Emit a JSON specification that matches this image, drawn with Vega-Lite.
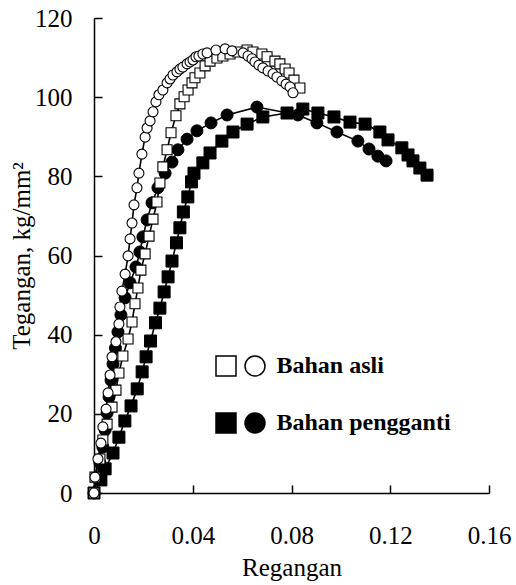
{
  "$schema": "https://vega.github.io/schema/vega-lite/v6.json",
  "width": 395,
  "height": 475,
  "autosize": "none",
  "padding": {"left": 94, "top": 18, "right": 27, "bottom": 92},
  "background": "white",
  "config": {
    "view": {"stroke": null},
    "font": "Liberation Serif",
    "axis": {
      "domainColor": "black", "domainWidth": 1.5,
      "tickColor": "black", "tickWidth": 1.5, "tickSize": -8,
      "labelColor": "black", "labelFont": "Liberation Serif", "labelFontSize": 25,
      "titleColor": "black", "titleFont": "Liberation Serif", "titleFontSize": 25, "titleFontWeight": "normal",
      "grid": false
    }
  },
  "data": {"values": [
    {"b":"Bahan pengganti","k":"kotak","x":0,"y":0},
    {"b":"Bahan pengganti","k":"kotak","x":0.0028,"y":3.3},
    {"b":"Bahan pengganti","k":"kotak","x":0.0045,"y":6.1},
    {"b":"Bahan pengganti","k":"kotak","x":0.0077,"y":10.1},
    {"b":"Bahan pengganti","k":"kotak","x":0.0101,"y":14.1},
    {"b":"Bahan pengganti","k":"kotak","x":0.0125,"y":18.2},
    {"b":"Bahan pengganti","k":"kotak","x":0.0150,"y":22.0},
    {"b":"Bahan pengganti","k":"kotak","x":0.0175,"y":26.3},
    {"b":"Bahan pengganti","k":"kotak","x":0.0195,"y":30.6},
    {"b":"Bahan pengganti","k":"kotak","x":0.0211,"y":34.4},
    {"b":"Bahan pengganti","k":"kotak","x":0.0229,"y":38.4},
    {"b":"Bahan pengganti","k":"kotak","x":0.0249,"y":43.0},
    {"b":"Bahan pengganti","k":"kotak","x":0.0267,"y":46.7},
    {"b":"Bahan pengganti","k":"kotak","x":0.0284,"y":50.8},
    {"b":"Bahan pengganti","k":"kotak","x":0.0300,"y":54.6},
    {"b":"Bahan pengganti","k":"kotak","x":0.0316,"y":58.6},
    {"b":"Bahan pengganti","k":"kotak","x":0.0334,"y":63.2},
    {"b":"Bahan pengganti","k":"kotak","x":0.0348,"y":67.0},
    {"b":"Bahan pengganti","k":"kotak","x":0.0362,"y":71.0},
    {"b":"Bahan pengganti","k":"kotak","x":0.0380,"y":74.8},
    {"b":"Bahan pengganti","k":"kotak","x":0.0395,"y":78.6},
    {"b":"Bahan pengganti","k":"kotak","x":0.0405,"y":80.8},
    {"b":"Bahan pengganti","k":"kotak","x":0.0441,"y":83.4},
    {"b":"Bahan pengganti","k":"kotak","x":0.0470,"y":85.9},
    {"b":"Bahan pengganti","k":"kotak","x":0.0518,"y":88.9},
    {"b":"Bahan pengganti","k":"kotak","x":0.0563,"y":91.2},
    {"b":"Bahan pengganti","k":"kotak","x":0.0620,"y":93.2},
    {"b":"Bahan pengganti","k":"kotak","x":0.0684,"y":95.0},
    {"b":"Bahan pengganti","k":"kotak","x":0.0782,"y":96.0},
    {"b":"Bahan pengganti","k":"kotak","x":0.0846,"y":97.0},
    {"b":"Bahan pengganti","k":"kotak","x":0.0907,"y":96.0},
    {"b":"Bahan pengganti","k":"kotak","x":0.0972,"y":95.0},
    {"b":"Bahan pengganti","k":"kotak","x":0.1037,"y":93.7},
    {"b":"Bahan pengganti","k":"kotak","x":0.1098,"y":93.2},
    {"b":"Bahan pengganti","k":"kotak","x":0.1158,"y":91.2},
    {"b":"Bahan pengganti","k":"kotak","x":0.1191,"y":89.2},
    {"b":"Bahan pengganti","k":"kotak","x":0.1247,"y":87.2},
    {"b":"Bahan pengganti","k":"kotak","x":0.1272,"y":85.4},
    {"b":"Bahan pengganti","k":"kotak","x":0.1292,"y":83.9},
    {"b":"Bahan pengganti","k":"kotak","x":0.1320,"y":82.1},
    {"b":"Bahan pengganti","k":"kotak","x":0.1349,"y":80.3},

    {"b":"Bahan pengganti","k":"lingkaran","x":0,"y":0},
    {"b":"Bahan pengganti","k":"lingkaran","x":0.0012,"y":3.8},
    {"b":"Bahan pengganti","k":"lingkaran","x":0.0024,"y":7.6},
    {"b":"Bahan pengganti","k":"lingkaran","x":0.0036,"y":11.6},
    {"b":"Bahan pengganti","k":"lingkaran","x":0.0045,"y":15.9},
    {"b":"Bahan pengganti","k":"lingkaran","x":0.0053,"y":20.2},
    {"b":"Bahan pengganti","k":"lingkaran","x":0.0061,"y":24.3},
    {"b":"Bahan pengganti","k":"lingkaran","x":0.0069,"y":28.5},
    {"b":"Bahan pengganti","k":"lingkaran","x":0.0077,"y":32.6},
    {"b":"Bahan pengganti","k":"lingkaran","x":0.0087,"y":36.6},
    {"b":"Bahan pengganti","k":"lingkaran","x":0.0097,"y":40.7},
    {"b":"Bahan pengganti","k":"lingkaran","x":0.0109,"y":45.0},
    {"b":"Bahan pengganti","k":"lingkaran","x":0.0126,"y":49.3},
    {"b":"Bahan pengganti","k":"lingkaran","x":0.0146,"y":53.1},
    {"b":"Bahan pengganti","k":"lingkaran","x":0.0170,"y":57.1},
    {"b":"Bahan pengganti","k":"lingkaran","x":0.0186,"y":60.9},
    {"b":"Bahan pengganti","k":"lingkaran","x":0.0198,"y":64.7},
    {"b":"Bahan pengganti","k":"lingkaran","x":0.0215,"y":69.0},
    {"b":"Bahan pengganti","k":"lingkaran","x":0.0235,"y":73.3},
    {"b":"Bahan pengganti","k":"lingkaran","x":0.0259,"y":77.1},
    {"b":"Bahan pengganti","k":"lingkaran","x":0.0288,"y":80.8},
    {"b":"Bahan pengganti","k":"lingkaran","x":0.0316,"y":83.6},
    {"b":"Bahan pengganti","k":"lingkaran","x":0.0340,"y":86.7},
    {"b":"Bahan pengganti","k":"lingkaran","x":0.0377,"y":89.4},
    {"b":"Bahan pengganti","k":"lingkaran","x":0.0417,"y":91.5},
    {"b":"Bahan pengganti","k":"lingkaran","x":0.0474,"y":93.5},
    {"b":"Bahan pengganti","k":"lingkaran","x":0.0539,"y":95.5},
    {"b":"Bahan pengganti","k":"lingkaran","x":0.0660,"y":97.5},
    {"b":"Bahan pengganti","k":"lingkaran","x":0.0826,"y":95.5},
    {"b":"Bahan pengganti","k":"lingkaran","x":0.0903,"y":93.5},
    {"b":"Bahan pengganti","k":"lingkaran","x":0.0984,"y":91.2},
    {"b":"Bahan pengganti","k":"lingkaran","x":0.1069,"y":88.9},
    {"b":"Bahan pengganti","k":"lingkaran","x":0.1114,"y":86.9},
    {"b":"Bahan pengganti","k":"lingkaran","x":0.1150,"y":85.1},
    {"b":"Bahan pengganti","k":"lingkaran","x":0.1183,"y":83.9},

    {"b":"Bahan asli","k":"kotak","x":0,"y":0},
    {"b":"Bahan asli","k":"kotak","x":0.0004,"y":4.0},
    {"b":"Bahan asli","k":"kotak","x":0.0024,"y":8.6},
    {"b":"Bahan asli","k":"kotak","x":0.0036,"y":13.4},
    {"b":"Bahan asli","k":"kotak","x":0.0053,"y":17.4},
    {"b":"Bahan asli","k":"kotak","x":0.0073,"y":21.7},
    {"b":"Bahan asli","k":"kotak","x":0.0089,"y":26.0},
    {"b":"Bahan asli","k":"kotak","x":0.0101,"y":30.3},
    {"b":"Bahan asli","k":"kotak","x":0.0117,"y":34.6},
    {"b":"Bahan asli","k":"kotak","x":0.0138,"y":38.9},
    {"b":"Bahan asli","k":"kotak","x":0.0154,"y":43.2},
    {"b":"Bahan asli","k":"kotak","x":0.0166,"y":47.8},
    {"b":"Bahan asli","k":"kotak","x":0.0178,"y":51.8},
    {"b":"Bahan asli","k":"kotak","x":0.0190,"y":56.3},
    {"b":"Bahan asli","k":"kotak","x":0.0207,"y":60.4},
    {"b":"Bahan asli","k":"kotak","x":0.0223,"y":64.9},
    {"b":"Bahan asli","k":"kotak","x":0.0239,"y":69.2},
    {"b":"Bahan asli","k":"kotak","x":0.0255,"y":73.5},
    {"b":"Bahan asli","k":"kotak","x":0.0267,"y":78.3},
    {"b":"Bahan asli","k":"kotak","x":0.0279,"y":82.4},
    {"b":"Bahan asli","k":"kotak","x":0.0296,"y":86.7},
    {"b":"Bahan asli","k":"kotak","x":0.0312,"y":91.0},
    {"b":"Bahan asli","k":"kotak","x":0.0332,"y":95.3},
    {"b":"Bahan asli","k":"kotak","x":0.0348,"y":98.3},
    {"b":"Bahan asli","k":"kotak","x":0.0365,"y":100.1},
    {"b":"Bahan asli","k":"kotak","x":0.0381,"y":101.8},
    {"b":"Bahan asli","k":"kotak","x":0.0397,"y":103.6},
    {"b":"Bahan asli","k":"kotak","x":0.0409,"y":104.9},
    {"b":"Bahan asli","k":"kotak","x":0.0429,"y":106.1},
    {"b":"Bahan asli","k":"kotak","x":0.0450,"y":107.9},
    {"b":"Bahan asli","k":"kotak","x":0.0470,"y":109.1},
    {"b":"Bahan asli","k":"kotak","x":0.0498,"y":109.9},
    {"b":"Bahan asli","k":"kotak","x":0.0522,"y":110.4},
    {"b":"Bahan asli","k":"kotak","x":0.0551,"y":110.9},
    {"b":"Bahan asli","k":"kotak","x":0.0583,"y":111.4},
    {"b":"Bahan asli","k":"kotak","x":0.0620,"y":111.9},
    {"b":"Bahan asli","k":"kotak","x":0.0644,"y":111.4},
    {"b":"Bahan asli","k":"kotak","x":0.0680,"y":110.9},
    {"b":"Bahan asli","k":"kotak","x":0.0701,"y":110.2},
    {"b":"Bahan asli","k":"kotak","x":0.0733,"y":109.1},
    {"b":"Bahan asli","k":"kotak","x":0.0753,"y":108.4},
    {"b":"Bahan asli","k":"kotak","x":0.0774,"y":107.1},
    {"b":"Bahan asli","k":"kotak","x":0.0790,"y":106.1},
    {"b":"Bahan asli","k":"kotak","x":0.0810,"y":104.3},
    {"b":"Bahan asli","k":"kotak","x":0.0834,"y":102.3},

    {"b":"Bahan asli","k":"lingkaran","x":0,"y":0},
    {"b":"Bahan asli","k":"lingkaran","x":0.0004,"y":4.0},
    {"b":"Bahan asli","k":"lingkaran","x":0.0016,"y":8.6},
    {"b":"Bahan asli","k":"lingkaran","x":0.0028,"y":12.6},
    {"b":"Bahan asli","k":"lingkaran","x":0.0036,"y":16.7},
    {"b":"Bahan asli","k":"lingkaran","x":0.0049,"y":21.2},
    {"b":"Bahan asli","k":"lingkaran","x":0.0057,"y":25.3},
    {"b":"Bahan asli","k":"lingkaran","x":0.0065,"y":29.8},
    {"b":"Bahan asli","k":"lingkaran","x":0.0073,"y":34.4},
    {"b":"Bahan asli","k":"lingkaran","x":0.0089,"y":38.2},
    {"b":"Bahan asli","k":"lingkaran","x":0.0101,"y":42.7},
    {"b":"Bahan asli","k":"lingkaran","x":0.0105,"y":47.0},
    {"b":"Bahan asli","k":"lingkaran","x":0.0113,"y":51.0},
    {"b":"Bahan asli","k":"lingkaran","x":0.0126,"y":55.3},
    {"b":"Bahan asli","k":"lingkaran","x":0.0138,"y":59.9},
    {"b":"Bahan asli","k":"lingkaran","x":0.0146,"y":64.2},
    {"b":"Bahan asli","k":"lingkaran","x":0.0154,"y":68.2},
    {"b":"Bahan asli","k":"lingkaran","x":0.0162,"y":72.8},
    {"b":"Bahan asli","k":"lingkaran","x":0.0174,"y":77.1},
    {"b":"Bahan asli","k":"lingkaran","x":0.0182,"y":80.8},
    {"b":"Bahan asli","k":"lingkaran","x":0.0194,"y":85.6},
    {"b":"Bahan asli","k":"lingkaran","x":0.0207,"y":89.9},
    {"b":"Bahan asli","k":"lingkaran","x":0.0215,"y":92.2},
    {"b":"Bahan asli","k":"lingkaran","x":0.0227,"y":94.0},
    {"b":"Bahan asli","k":"lingkaran","x":0.0239,"y":96.3},
    {"b":"Bahan asli","k":"lingkaran","x":0.0251,"y":98.8},
    {"b":"Bahan asli","k":"lingkaran","x":0.0263,"y":100.6},
    {"b":"Bahan asli","k":"lingkaran","x":0.0279,"y":101.8},
    {"b":"Bahan asli","k":"lingkaran","x":0.0296,"y":103.6},
    {"b":"Bahan asli","k":"lingkaran","x":0.0308,"y":104.6},
    {"b":"Bahan asli","k":"lingkaran","x":0.0320,"y":105.6},
    {"b":"Bahan asli","k":"lingkaran","x":0.0336,"y":106.4},
    {"b":"Bahan asli","k":"lingkaran","x":0.0348,"y":107.1},
    {"b":"Bahan asli","k":"lingkaran","x":0.0360,"y":107.6},
    {"b":"Bahan asli","k":"lingkaran","x":0.0377,"y":108.4},
    {"b":"Bahan asli","k":"lingkaran","x":0.0389,"y":108.9},
    {"b":"Bahan asli","k":"lingkaran","x":0.0401,"y":109.4},
    {"b":"Bahan asli","k":"lingkaran","x":0.0413,"y":110.2},
    {"b":"Bahan asli","k":"lingkaran","x":0.0425,"y":110.4},
    {"b":"Bahan asli","k":"lingkaran","x":0.0441,"y":110.9},
    {"b":"Bahan asli","k":"lingkaran","x":0.0458,"y":111.2},
    {"b":"Bahan asli","k":"lingkaran","x":0.0494,"y":111.9},
    {"b":"Bahan asli","k":"lingkaran","x":0.0531,"y":112.2},
    {"b":"Bahan asli","k":"lingkaran","x":0.0559,"y":111.7},
    {"b":"Bahan asli","k":"lingkaran","x":0.0604,"y":111.2},
    {"b":"Bahan asli","k":"lingkaran","x":0.0624,"y":110.4},
    {"b":"Bahan asli","k":"lingkaran","x":0.0640,"y":109.7},
    {"b":"Bahan asli","k":"lingkaran","x":0.0652,"y":108.9},
    {"b":"Bahan asli","k":"lingkaran","x":0.0668,"y":108.1},
    {"b":"Bahan asli","k":"lingkaran","x":0.0684,"y":107.4},
    {"b":"Bahan asli","k":"lingkaran","x":0.0705,"y":106.6},
    {"b":"Bahan asli","k":"lingkaran","x":0.0725,"y":105.9},
    {"b":"Bahan asli","k":"lingkaran","x":0.0741,"y":105.1},
    {"b":"Bahan asli","k":"lingkaran","x":0.0761,"y":104.1},
    {"b":"Bahan asli","k":"lingkaran","x":0.0778,"y":103.3},
    {"b":"Bahan asli","k":"lingkaran","x":0.0794,"y":102.6},
    {"b":"Bahan asli","k":"lingkaran","x":0.0806,"y":101.1}
  ]},
  "encoding": {
    "x": {"field": "x", "type": "quantitative",
      "scale": {"domain": [0, 0.16], "nice": false, "zero": false},
      "axis": {"values": [0, 0.04, 0.08, 0.12, 0.16], "format": "~g", "title": "Regangan",
               "labelPadding": 38, "titlePadding": 7, "labelFlush": false, "titleColor": "#000000"}},
    "y": {"field": "y", "type": "quantitative",
      "scale": {"domain": [0, 120], "nice": false},
      "axis": {"values": [0, 20, 40, 60, 80, 100, 120], "title": "Tegangan, kg/mm²",
               "labelPadding": 30, "titlePadding": 0, "titleColor": "#000000"}}
  },
  "layer": [
    {
      "mark": {"type": "line", "color": "black", "strokeWidth": 1.6},
      "encoding": {"detail": [{"field": "b"}, {"field": "k"}], "order": {"field": "x", "type": "quantitative"}}
    },
    {
      "transform": [{"filter": "datum.b === 'Bahan pengganti'"}],
      "mark": {"type": "point", "filled": true, "size": 144, "stroke": "black", "strokeWidth": 1, "opacity": 1},
      "encoding": {
        "fill": {"field": "b", "type": "nominal",
          "scale": {"domain": ["Bahan asli", "Bahan pengganti"], "range": ["white", "black"]},
          "legend": {"title": null, "orient": "none", "legendX": 134.5, "legendY": 336,
            "symbolType": "M-2.45,-1H-0.45V1H-2.45Z M2.45,0A1,1,0,1,1,0.45,0A1,1,0,1,1,2.45,0Z",
            "symbolSize": 400, "symbolStrokeColor": "black", "symbolStrokeWidth": 1.5, "symbolOpacity": 1,
            "labelOffset": 24, "labelFont": "Liberation Serif", "labelFontSize": 24, "labelFontWeight": "bold",
            "labelColor": "black", "rowPadding": 31, "padding": 0, "labelLimit": 400}},
        "shape": {"field": "k", "type": "nominal",
          "scale": {"domain": ["kotak", "lingkaran"], "range": ["square", "circle"]}, "legend": null}
      }
    },
    {
      "transform": [{"filter": "datum.b === 'Bahan asli'"}],
      "mark": {"type": "point", "filled": true, "size": 100, "stroke": "black", "strokeWidth": 1.1, "opacity": 1},
      "encoding": {
        "fill": {"field": "b", "type": "nominal"},
        "shape": {"field": "k", "type": "nominal", "legend": null}
      }
    }
  ]
}
